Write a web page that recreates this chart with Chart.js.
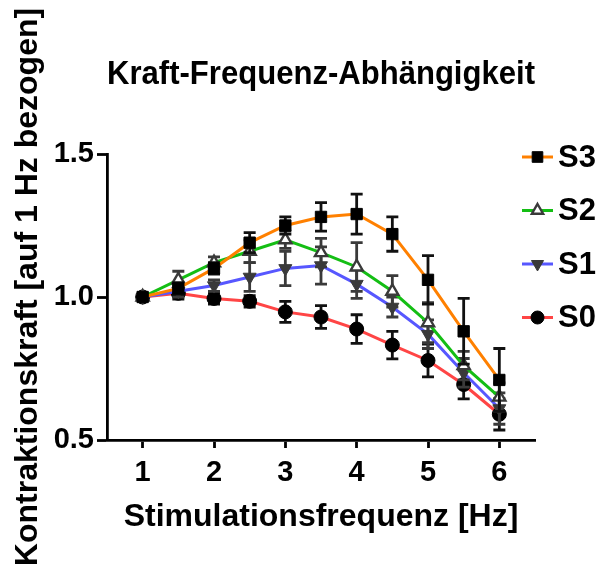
<!DOCTYPE html>
<html>
<head>
<meta charset="utf-8">
<script src="https://cdn.jsdelivr.net/npm/chart.js@4/dist/chart.umd.min.js"></script>
<style>
  html, body { margin: 0; padding: 0; background: #fff; }
  canvas { display: block; }
</style>
</head>
<body>
<canvas id="c" width="603" height="571"></canvas>
<script>
// ---- data ----
const chartTitle = 'Kraft-Frequenz-Abhängigkeit';
const xTitle = 'Stimulationsfrequenz [Hz]';
const yTitle = 'Kontraktionskraft [auf 1 Hz bezogen]';
const frequencies = [1, 1.5, 2, 2.5, 3, 3.5, 4, 4.5, 5, 5.5, 6];
const xTicks = [1, 2, 3, 4, 5, 6];
const yTicks = [0.5, 1.0, 1.5];
const seriesNames = ['S3', 'S2', 'S1', 'S0'];
const s3Mean = [1.00, 1.03, 1.10, 1.19, 1.25, 1.28, 1.29, 1.22, 1.06, 0.88, 0.71];
const s3Err  = [0.00, 0.02, 0.02, 0.035, 0.03, 0.05, 0.07, 0.06, 0.085, 0.115, 0.11];
const s2Mean = [1.00, 1.06, 1.12, 1.16, 1.20, 1.155, 1.105, 1.02, 0.91, 0.76, 0.65];
const s2Err  = [0.00, 0.03, 0.02, 0.04, 0.03, 0.05, 0.085, 0.055, 0.07, 0.05, 0.05];
const s1Mean = [1.00, 1.02, 1.04, 1.07, 1.10, 1.11, 1.045, 0.965, 0.87, 0.735, 0.61];
const s1Err  = [0.00, 0.02, 0.02, 0.05, 0.06, 0.065, 0.05, 0.035, 0.05, 0.05, 0.055];
const s0Mean = [1.00, 1.013, 0.995, 0.985, 0.948, 0.93, 0.888, 0.832, 0.778, 0.694, 0.59];
const s0Err  = [0.00, 0.02, 0.02, 0.02, 0.037, 0.04, 0.05, 0.048, 0.057, 0.05, 0.055];

const FONT = "'Liberation Sans', Arial, Helvetica, sans-serif";
Chart.defaults.font.family = FONT;
Chart.defaults.color = '#000';

const toPts = (arr) => frequencies.map((f, i) => ({ x: f, y: arr[i] }));

const datasets = [
  { label: seriesNames[0], data: toPts(s3Mean), errors: s3Err, errorColor: '#111',
    borderColor: '#FF8000', pointStyle: 'rect', pointRadius: 8, pointRotation: 0,
    pointBackgroundColor: '#000', pointBorderColor: '#000', pointBorderWidth: 1 },
  { label: seriesNames[1], data: toPts(s2Mean), errors: s2Err, errorColor: '#3a3a3a',
    borderColor: '#14BE14', pointStyle: 'triangle', pointRadius: 7, pointRotation: 0,
    pointBackgroundColor: '#fff', pointBorderColor: '#3a3a3a', pointBorderWidth: 2.4 },
  { label: seriesNames[2], data: toPts(s1Mean), errors: s1Err, errorColor: '#3a3a3a',
    borderColor: '#5757FF', pointStyle: 'triangle', pointRadius: 7.5, pointRotation: 180,
    pointBackgroundColor: '#3a3a3a', pointBorderColor: '#3a3a3a', pointBorderWidth: 1 },
  { label: seriesNames[3], data: toPts(s0Mean), errors: s0Err, errorColor: '#111',
    borderColor: '#FF4545', pointStyle: 'circle', pointRadius: 7, pointRotation: 0,
    pointBackgroundColor: '#000', pointBorderColor: '#000', pointBorderWidth: 1 }
];
datasets.forEach(d => { d.borderWidth = 3; d.tension = 0; d.fill = false; d.backgroundColor = d.borderColor; });

// error bars drawn through the chart's own scales
const errorBarPlugin = {
  id: 'errorBars',
  beforeDatasetDraw(chart, args) {
    const ds = chart.data.datasets[args.index];
    const xs = chart.scales.x, ys = chart.scales.y, ctx = chart.ctx;
    ctx.save();
    ctx.strokeStyle = ds.errorColor;
    ctx.lineWidth = 2.8;
    ds.errors.forEach((e, i) => {
      if (!e) return;
      const p = ds.data[i];
      const px = xs.getPixelForValue(p.x);
      const yt = ys.getPixelForValue(p.y + e);
      const yb = ys.getPixelForValue(p.y - e);
      ctx.beginPath();
      ctx.moveTo(px, yt); ctx.lineTo(px, yb);
      ctx.moveTo(px - 6, yt); ctx.lineTo(px + 6, yt);
      ctx.moveTo(px - 6, yb); ctx.lineTo(px + 6, yb);
      ctx.stroke();
    });
    ctx.restore();
  }
};

// legend with line + marker samples, and rotated y-axis title
const extrasPlugin = {
  id: 'extras',
  afterDraw(chart) {
    const ctx = chart.ctx;
    ctx.save();
    chart.data.datasets.forEach((ds, i) => {
      const yy = 157 + i * 53.5;
      ctx.strokeStyle = ds.borderColor;
      ctx.lineWidth = 3;
      ctx.beginPath(); ctx.moveTo(522, yy); ctx.lineTo(553, yy); ctx.stroke();
      ctx.fillStyle = ds.pointBackgroundColor;
      ctx.strokeStyle = ds.pointBorderColor;
      ctx.lineWidth = ds.pointBorderWidth;
      Chart.helpers.drawPoint(ctx, { pointStyle: ds.pointStyle, rotation: ds.pointRotation,
        radius: ds.pointRadius - 0.5, borderWidth: ds.pointBorderWidth }, 537.5, yy);
      ctx.fillStyle = '#000';
      ctx.font = 'bold 31px ' + FONT;
      ctx.textAlign = 'left';
      ctx.textBaseline = 'middle';
      ctx.fillText(ds.label, 558, yy + 1);
    });
    ctx.translate(28, 287);
    ctx.rotate(-Math.PI / 2);
    ctx.font = 'bold 32px ' + FONT;
    ctx.textAlign = 'center';
    ctx.textBaseline = 'middle';
    ctx.fillStyle = '#000';
    ctx.fillText(yTitle, 0, 0);
    ctx.restore();
  }
};

new Chart(document.getElementById('c'), {
  type: 'line',
  data: { datasets },
  plugins: [errorBarPlugin, extrasPlugin],
  options: {
    responsive: false,
    animation: false,
    devicePixelRatio: 1,
    layout: { padding: { left: 0, right: 68, top: 0, bottom: 0 } },
    plugins: {
      legend: { display: false },
      tooltip: { enabled: false },
      title: {
        display: true, text: chartTitle, fullSize: false,
        font: { size: 33, weight: 'bold', lineHeight: 1 },
        color: '#000', padding: { top: 58, bottom: 63 }
      }
    },
    scales: {
      x: {
        type: 'linear', min: 0.5, max: 6.5,
        afterFit: s => { s.height = 131; },
        afterBuildTicks: s => { s.ticks = xTicks.map(v => ({ value: v })); },
        ticks: { font: { size: 29, weight: 'bold', lineHeight: 1 }, color: '#000', padding: 10,
                 maxRotation: 0, autoSkip: false, callback: v => String(v) },
        grid: { display: true, drawOnChartArea: false, drawTicks: true, tickLength: 8,
                tickWidth: 2.8, tickColor: '#000' },
        border: { display: true, color: '#000', width: 2.8 },
        title: { display: true, text: xTitle, font: { size: 32, weight: 'bold', lineHeight: 1 },
                 color: '#000', padding: { top: 0, bottom: 38 } }
      },
      y: {
        type: 'linear', min: 0.5, max: 1.5,
        afterFit: s => { s.width = 107; },
        afterBuildTicks: s => { s.ticks = yTicks.map(v => ({ value: v })); },
        ticks: { font: { size: 29, weight: 'bold', lineHeight: 1 }, color: '#000', padding: 3,
                 callback: v => Number(v).toFixed(1) },
        grid: { display: true, drawOnChartArea: false, drawTicks: true, tickLength: 10,
                tickWidth: 2.8, tickColor: '#000' },
        border: { display: true, color: '#000', width: 2.8 }
      }
    }
  }
});
</script>
</body>
</html>
